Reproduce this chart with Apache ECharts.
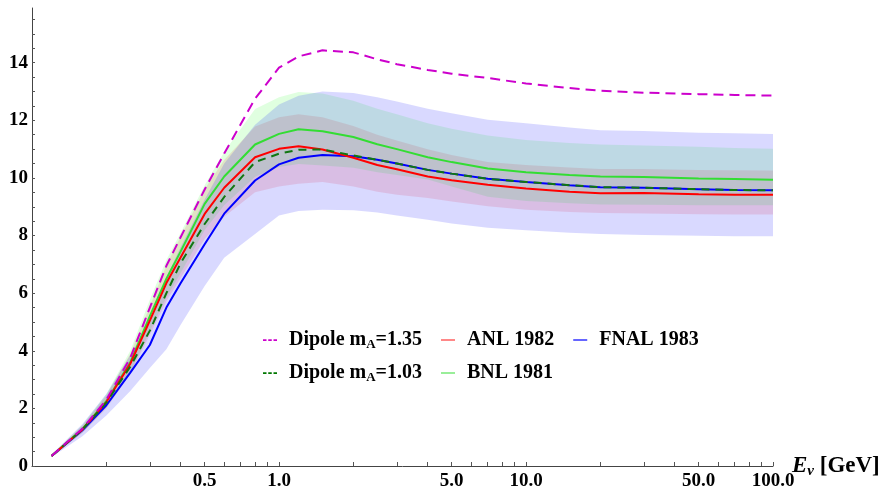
<!DOCTYPE html>
<html>
<head>
<meta charset="utf-8">
<script src="https://cdn.jsdelivr.net/npm/echarts@6/dist/echarts.min.js"></script>
<style>
  html, body { margin: 0; padding: 0; background: #fff; }
  #chart { width: 885px; height: 493px; }
</style>
</head>
<body>
<div id="chart"></div>
<script>
// Neutrino energy sample points (GeV)
const energies = [0.12, 0.16, 0.2, 0.25, 0.3, 0.35, 0.4, 0.5, 0.6, 0.8, 1.0, 1.2, 1.5, 2, 2.5, 3, 4, 5, 7, 10, 15, 20, 30, 50, 70, 100];

// Dipole form factor predictions
const dipole135 = [0.35, 1.30, 2.30, 3.75, 5.50, 6.95, 7.95, 9.60, 10.85, 12.75, 13.83, 14.22, 14.43, 14.36, 14.12, 13.95, 13.75, 13.62, 13.47, 13.28, 13.12, 13.03, 12.96, 12.91, 12.88, 12.86];
const dipole103 = [0.35, 1.27, 2.20, 3.45, 4.70, 6.00, 7.05, 8.40, 9.34, 10.55, 10.84, 10.98, 10.99, 10.78, 10.63, 10.50, 10.28, 10.15, 9.97, 9.86, 9.75, 9.68, 9.66, 9.61, 9.58, 9.57];

// Fits to bubble chamber data: central values
const anl1982 = [0.35, 1.27, 2.22, 3.55, 5.05, 6.35, 7.25, 8.75, 9.66, 10.72, 11.01, 11.10, 10.99, 10.70, 10.45, 10.30, 10.05, 9.92, 9.76, 9.63, 9.52, 9.47, 9.48, 9.43, 9.42, 9.42];
const bnl1981 = [0.35, 1.28, 2.25, 3.60, 5.20, 6.50, 7.45, 9.10, 10.05, 11.16, 11.53, 11.69, 11.62, 11.42, 11.17, 11.00, 10.72, 10.55, 10.33, 10.20, 10.10, 10.05, 10.03, 9.98, 9.96, 9.94];
const fnal1983 = [0.35, 1.24, 2.11, 3.24, 4.20, 5.50, 6.35, 7.70, 8.76, 9.91, 10.47, 10.70, 10.80, 10.75, 10.63, 10.50, 10.28, 10.15, 9.97, 9.86, 9.75, 9.68, 9.66, 9.61, 9.58, 9.57];

// Uncertainty bands (lower / upper edges)
const anlLow  = [0.32, 1.15, 2.00, 3.20, 4.55, 5.72, 6.53, 7.88, 8.65, 9.50, 9.70, 9.80, 9.86, 9.70, 9.52, 9.42, 9.30, 9.18, 9.02, 8.90, 8.82, 8.78, 8.77, 8.74, 8.73, 8.73];
const anlHigh = [0.38, 1.40, 2.44, 3.90, 5.55, 6.98, 7.97, 9.62, 10.62, 11.79, 12.11, 12.21, 12.11, 11.80, 11.50, 11.30, 11.00, 10.80, 10.55, 10.45, 10.36, 10.31, 10.31, 10.28, 10.27, 10.26];
const bnlLow  = [0.32, 1.15, 2.03, 3.24, 4.68, 5.85, 6.70, 8.19, 9.05, 10.04, 10.38, 10.48, 10.43, 10.35, 10.20, 10.10, 9.95, 9.70, 9.35, 9.20, 9.12, 9.08, 9.07, 9.05, 9.05, 9.05];
const bnlHigh = [0.39, 1.42, 2.50, 4.00, 5.77, 7.15, 8.10, 9.75, 10.90, 12.39, 12.80, 12.98, 12.93, 12.68, 12.40, 12.21, 11.90, 11.71, 11.47, 11.32, 11.21, 11.16, 11.13, 11.08, 11.04, 11.01];
const fnalLow  = [0.30, 1.03, 1.75, 2.60, 3.40, 4.05, 4.90, 6.25, 7.23, 8.05, 8.70, 8.85, 8.90, 8.88, 8.80, 8.70, 8.55, 8.42, 8.27, 8.18, 8.10, 8.05, 8.02, 7.99, 7.98, 7.98];
const fnalHigh = [0.40, 1.46, 2.50, 3.85, 5.00, 6.55, 7.60, 9.25, 10.50, 11.85, 12.55, 12.85, 13.00, 12.95, 12.80, 12.65, 12.40, 12.25, 12.02, 11.90, 11.75, 11.66, 11.63, 11.57, 11.55, 11.53];

// Axis ticks
const xTickValues = [0.2, 0.3, 0.4, 0.5, 0.6, 0.7, 0.8, 0.9, 1, 2, 3, 4, 5, 6, 7, 8, 9, 10, 20, 30, 40, 50, 60, 70, 80, 90, 100];
const xLabelValues = [0.5, 1, 5, 10, 50, 100];
const yLabelValues = [0, 2, 4, 6, 8, 10, 12, 14];
const yTickValues = [];
for (let v = 0; v <= 15.5; v += 0.5) yTickValues.push(v);

const FONT = '"Liberation Serif", "Times New Roman", serif';
const pairs = ys => energies.map((e, i) => [e, ys[i]]);

// Filled band between a lower and an upper curve, drawn as one polygon
function bandSeries(name, low, high, fill) {
  return {
    type: 'custom',
    name: name,
    silent: true,
    clip: true,
    z: 1,
    data: energies.map((e, i) => [e, low[i], high[i]]),
    encode: { x: 0, y: [1, 2] },
    renderItem: function (params, api) {
      if (params.dataIndex !== 0) return null;
      const pts = [];
      for (let i = 0; i < energies.length; i++) pts.push(api.coord([energies[i], high[i]]));
      for (let i = energies.length - 1; i >= 0; i--) pts.push(api.coord([energies[i], low[i]]));
      return { type: 'polygon', shape: { points: pts }, style: { fill: fill } };
    }
  };
}

function lineSeries(name, ys, color, dash, z) {
  return {
    type: 'line',
    name: name,
    data: pairs(ys),
    symbol: 'none',
    z: z,
    lineStyle: { color: color, width: 2, type: dash || 'solid' },
    itemStyle: { color: color }
  };
}

const dashIcon = 'path://M0,0h4v2h-4z M6,0h4v2h-4z M12,0h4v2h-4z';
const legendNames = {
  'Dipole 1.35': '{g|}{t|Dipole m}{s|A}{t|=1.35}',
  'Dipole 1.03': '{g|}{t|Dipole m}{s|A}{t|=1.03}',
  'ANL 1982': '{g|}{t|ANL 1982}',
  'BNL 1981': '{g|}{t|BNL 1981}',
  'FNAL 1983': '{g|}{t|FNAL 1983}'
};
const legendText = {
  rich: {
    g: { width: 7 },
    t: { fontFamily: FONT, fontWeight: 'bold', fontSize: 20, color: '#000', lineHeight: 22 },
    s: { fontFamily: FONT, fontWeight: 'bold', fontSize: 13, color: '#000', lineHeight: 13, verticalAlign: 'bottom' }
  }
};
function legendRow(top, items) {
  return {
    left: 258, top: top, orient: 'horizontal',
    itemWidth: 14, itemHeight: 2, itemGap: 19,
    selectedMode: false,
    formatter: n => legendNames[n],
    textStyle: legendText,
    data: items
  };
}

const chart = echarts.init(document.getElementById('chart'), null, { renderer: 'canvas' });
chart.setOption({
  animation: false,
  backgroundColor: '#fff',
  grid: { left: 32, right: 112, top: 8, bottom: 27, containLabel: false, outerBoundsMode: 'none' },
  legend: [
    legendRow(325, [
      { name: 'Dipole 1.35', icon: dashIcon, itemStyle: { color: '#cc00cc' } },
      { name: 'ANL 1982', icon: 'rect', itemStyle: { color: '#ff8888' } },
      { name: 'FNAL 1983', icon: 'rect', itemStyle: { color: '#6666ff' } }
    ]),
    legendRow(358, [
      { name: 'Dipole 1.03', icon: dashIcon, itemStyle: { color: '#007700' } },
      { name: 'BNL 1981', icon: 'rect', itemStyle: { color: '#99ee99' } }
    ])
  ],
  xAxis: {
    type: 'log', logBase: 10, min: 0.1, max: 100,
    name: '{e|E}{nu|ν}{t| [GeV]}',
    nameLocation: 'end', nameGap: 19, nameMoveOverlap: false,
    nameTextStyle: {
      rich: {
        e: { fontFamily: FONT, fontWeight: 'bold', fontStyle: 'italic', fontSize: 23, color: '#000', lineHeight: 25 },
        nu: { fontFamily: FONT, fontWeight: 'bold', fontStyle: 'italic', fontSize: 15, color: '#000', lineHeight: 15, verticalAlign: 'bottom' },
        t: { fontFamily: FONT, fontWeight: 'bold', fontSize: 23, color: '#000', lineHeight: 25 }
      }
    },
    axisLine: { lineStyle: { color: '#444', width: 1 } },
    axisTick: { inside: true, length: 4, customValues: xTickValues, lineStyle: { color: '#555' } },
    minorTick: { show: false },
    axisLabel: {
      customValues: xLabelValues, margin: 6,
      formatter: v => Number(v).toFixed(1),
      fontFamily: FONT, fontWeight: 'bold', fontSize: 19, color: '#000'
    },
    splitLine: { show: false }
  },
  yAxis: {
    type: 'value', min: 0, max: 15.9,
    axisLine: { show: true, lineStyle: { color: '#444', width: 1 } },
    axisTick: { show: true, inside: true, length: 3, customValues: yTickValues, lineStyle: { color: '#555' } },
    axisLabel: {
      customValues: yLabelValues, margin: 4,
      fontFamily: FONT, fontWeight: 'bold', fontSize: 19, color: '#000'
    },
    splitLine: { show: false }
  },
  series: [
    bandSeries('ANL band', anlLow, anlHigh, 'rgba(255,0,0,0.12)'),
    bandSeries('BNL band', bnlLow, bnlHigh, 'rgba(0,255,0,0.12)'),
    bandSeries('FNAL band', fnalLow, fnalHigh, 'rgba(0,0,255,0.15)'),
    lineSeries('FNAL 1983', fnal1983, '#0000ff', null, 3),
    lineSeries('BNL 1981', bnl1981, '#33dd33', null, 3),
    lineSeries('ANL 1982', anl1982, '#ff0000', null, 4),
    lineSeries('Dipole 1.03', dipole103, '#117711', [8, 6], 5),
    lineSeries('Dipole 1.35', dipole135, '#cc00cc', [10, 6], 6)
  ]
});
</script>
</body>
</html>
